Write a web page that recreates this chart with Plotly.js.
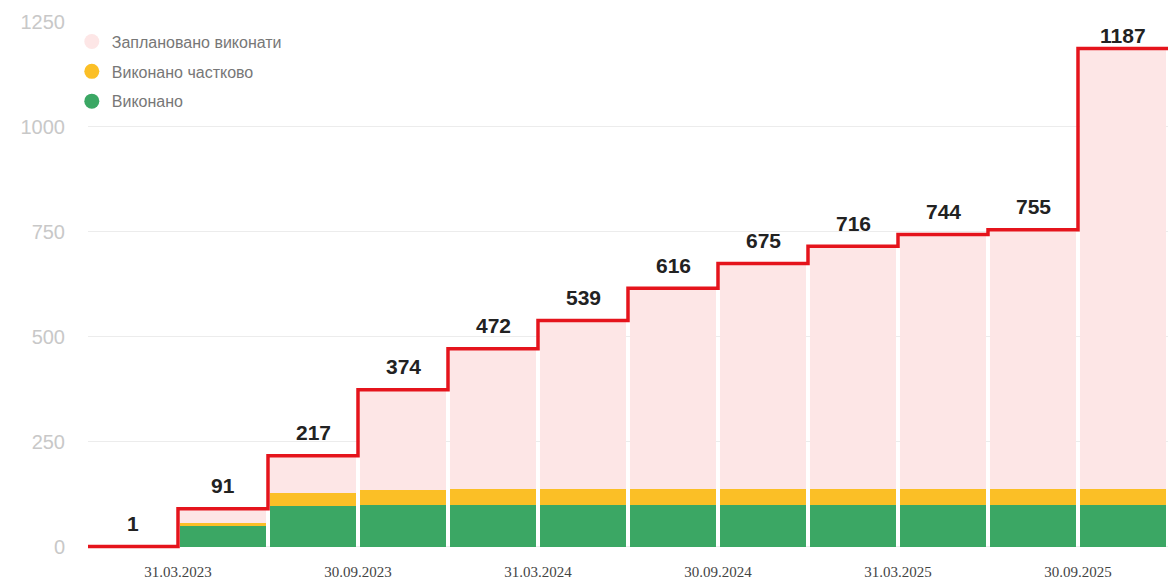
<!DOCTYPE html>
<html>
<head>
<meta charset="utf-8">
<script src="https://cdn.plot.ly/plotly-3.0.1.min.js"></script>
<style>
html,body{margin:0;padding:0;background:#fff;}
#chart{width:1168px;height:582px;}
</style>
</head>
<body>
<div id="chart"></div>
<script>
// Quarter periods (Q1 2023 ... Q4 2025)
const periods = ["I кв. 2023","II кв. 2023","III кв. 2023","IV кв. 2023","I кв. 2024","II кв. 2024","III кв. 2024","IV кв. 2024","I кв. 2025","II кв. 2025","III кв. 2025","IV кв. 2025"];
// Cumulative planned total (step line)
const plannedTotal = [1, 91, 217, 374, 472, 539, 616, 675, 716, 744, 755, 1187];
// Completed
const done = [0, 50, 97, 99, 100, 100, 100, 100, 100, 100, 100, 100];
// Partially completed
const partial = [0, 6, 31, 37, 38, 38, 38, 38, 38, 38, 38, 38];
// Tick labels (quarter end dates, at period boundaries)
const tickPositions = [1, 3, 5, 7, 9, 11];
const tickLabels = ["31.03.2023","30.09.2023","31.03.2024","30.09.2024","31.03.2025","30.09.2025"];

const legendNames = ["Заплановано виконати", "Виконано частково", "Виконано"];
const colors = {planned:"#fde6e6", partial:"#fbbf26", done:"#3ba764", line:"#e5141c"};

const xMid = periods.map((p,i)=> i + 0.5);
const remaining = plannedTotal.map((t,i)=> Math.max(0, t - done[i] - partial[i]));

const traces = [];
traces.push({type:"bar", x:xMid, y:done, marker:{color:colors.done, line:{width:0}}, width:0.965, showlegend:false, hoverinfo:"y", name:legendNames[2]});
traces.push({type:"bar", x:xMid, y:partial, marker:{color:colors.partial, line:{width:0}}, width:0.965, showlegend:false, hoverinfo:"y", name:legendNames[1]});
traces.push({type:"bar", x:xMid, y:remaining, marker:{color:colors.planned, line:{width:0}}, width:0.965, showlegend:false, hoverinfo:"y", name:legendNames[0]});

// Step line
const stepX = plannedTotal.map((v,i)=> i).concat([plannedTotal.length]);
const stepY = plannedTotal.concat([plannedTotal[plannedTotal.length-1]]);
traces.push({type:"scatter", mode:"lines", x:stepX, y:stepY, line:{shape:"hv", color:colors.line, width:3.5}, showlegend:false, hoverinfo:"skip", cliponaxis:false});

// Legend entries with circle markers
const legendColors = [colors.planned, colors.partial, colors.done];
legendNames.forEach((n,i)=>{
  traces.push({type:"scatter", mode:"markers", x:[null], y:[null], name:n, legendgroup:"g"+i,
    marker:{symbol:"circle", size:15, color:legendColors[i]}, showlegend:true});
});

const annotations = plannedTotal.map((v,i)=>({
  x: xMid[i], y: v, xref:"x", yref:"y", text: "<b>"+String(v)+"</b>", showarrow:false,
  yshift: v > 1100 ? 13 : 23,
  font:{family:"Liberation Sans, Arial, sans-serif", size:21, color:"#222"}
}));

const layout = {
  width:1168, height:582,
  margin:{l:88, r:0, t:22, b:33, pad:0},
  paper_bgcolor:"#fff", plot_bgcolor:"#fff",
  barmode:"stack",
  showlegend:true,
  legend:{x:-0.015, xanchor:"left", y:0.995, yanchor:"top", bgcolor:"rgba(0,0,0,0)",
    font:{family:"Liberation Sans, Arial, sans-serif", size:16, color:"#777"},
    traceorder:"grouped", tracegroupgap:6, itemclick:false},
  xaxis:{range:[0,12], tickmode:"array", tickvals:tickPositions, ticktext:tickLabels,
    showgrid:false, zeroline:false, showline:false, ticks:"", ticklabelstandoff:12,
    tickfont:{family:"Liberation Serif, Times New Roman, serif", size:15, color:"#444"}, fixedrange:true},
  yaxis:{range:[-5,1250], tickmode:"array", tickvals:[0,250,500,750,1000,1250],
    showgrid:true, gridcolor:"#ececec", gridwidth:1, zeroline:false, showline:false, ticks:"",
    ticklabelstandoff:22,
    tickfont:{family:"Liberation Sans, Arial, sans-serif", size:20, color:"#c8c8c8"}, fixedrange:true},
  annotations: annotations
};

Plotly.newPlot("chart", traces, layout, {displayModeBar:false, staticPlot:true});
</script>
</body>
</html>
